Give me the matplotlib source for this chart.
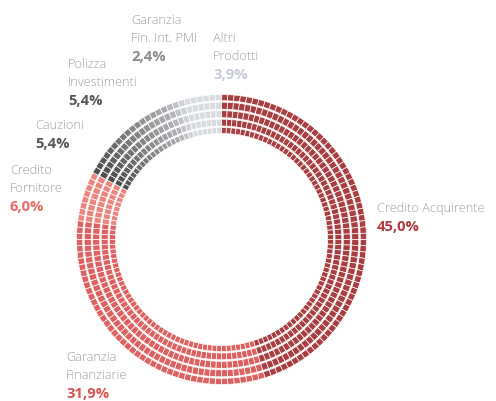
import numpy as np
import matplotlib
matplotlib.use("Agg")
import matplotlib.pyplot as plt
from matplotlib.patches import Wedge
from matplotlib.colors import to_rgb

# Data (clockwise from 12 o'clock)
categories = ["Credito Acquirente", "Garanzia\nFinanziarie", "Credito\nFornitore",
              "Cauzioni", "Polizza\nInvestimenti", "Garanzia\nFin. Int. PMI", "Altri\nProdotti"]
shares = [45.0, 31.9, 6.0, 5.4, 5.4, 2.4, 3.9]

# Styling
tile_colors = ["#a83e41", "#dd6160", "#ec8480", "#4b4b4d", "#7c7c7f", "#aeafb2", "#d8dbe0"]
pct_colors = ["#b03a3e", "#d9534f", "#ec6b63", "#555555", "#555555", "#8a8a8a", "#c5ccd8"]
blend_next = [False, False, False, True, True, True, False]
# label anchor (x, y) in pixels, top-left of text block
label_pos = [(377, 202), (66, 351), (10, 164), (35, 119), (68, 58), (131, 14), (213, 32)]

W, H = 496, 401
CX, CY = 221.5, H - 239.5
rows = [(138.8, 145.0), (130.3, 137.3), (121.8, 128.8), (113.5, 120.3), (106.0, 112.0)]
N_TILES = 144

fig = plt.figure(figsize=(W / 100, H / 100), dpi=100)
ax = fig.add_axes([0, 0, 1, 1])
ax.set_xlim(0, W)
ax.set_ylim(0, H)
ax.set_aspect("equal")
ax.axis("off")

bounds = np.concatenate([[0], np.cumsum(shares)]) / 100 * 360
step = 360 / N_TILES

def tile_color(a):
    k = min(np.searchsorted(bounds, a, side="right") - 1, len(shares) - 1)
    c = np.array(to_rgb(tile_colors[k]))
    if blend_next[k]:
        t = (a - bounds[k]) / (bounds[k + 1] - bounds[k])
        c2 = np.array(to_rgb(tile_colors[k + 1]))
        c = c * (1 - t) + c2 * t
    return c

for i in range(N_TILES):
    a = (i + 0.5) * step  # clockwise from top
    col = tile_color(a)
    a0 = 90 - (i + 1) * step
    a1 = 90 - i * step
    for r_in, r_out in rows:
        ax.add_patch(Wedge((CX, CY), r_out, a0, a1, width=r_out - r_in,
                           facecolor=col, edgecolor="white", linewidth=0.5))

line_h = 17.8
for name, v, (x, y), pc in zip(categories, shares, label_pos, pct_colors):
    lines = name.split("\n")
    for j, ln in enumerate(lines):
        ax.text(x, H - (y + j * line_h), ln, fontsize=9.2, family="Open Sans",
                fontweight="light", color="#a0a0a0", ha="left", va="top")
    ax.text(x, H - (y + len(lines) * line_h), f"{v:.1f}".replace(".", ",") + "%",
            fontsize=10.6, family="Open Sans", fontweight="bold", color=pc,
            ha="left", va="top")

fig.savefig("out.png", dpi=100, facecolor="white")
